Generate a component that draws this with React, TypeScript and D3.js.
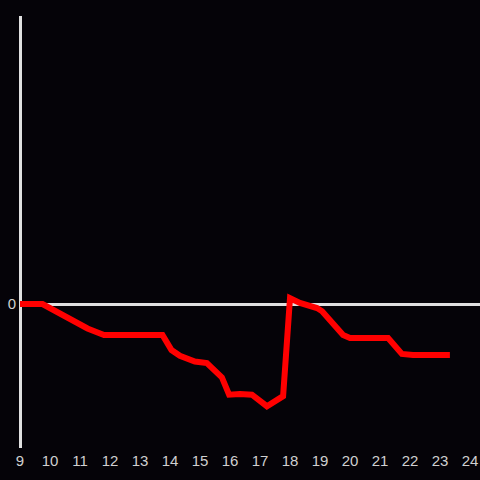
import React from "react";
import * as d3 from "d3";

const hours = [9, 9.75, 11.25, 11.8, 13.75, 14.05, 14.33, 14.83, 15.23, 15.73, 15.97, 16.33, 16.73, 17.23, 17.77, 18.0, 18.33, 18.9, 19.07, 19.77, 20.0, 21.27, 21.73, 22.1, 23.33];
const values = [0, 0, -1.7, -2.15, -2.15, -3.2, -3.6, -4.0, -4.1, -5.1, -6.3, -6.25, -6.3, -7.1, -6.4, 0.4, 0.07, -0.28, -0.5, -2.15, -2.36, -2.36, -3.47, -3.54, -3.54];
const xTicks = [9, 10, 11, 12, 13, 14, 15, 16, 17, 18, 19, 20, 21, 22, 23, 24];
const yTicks = [0];

export default function App() {
  const W = 480, H = 480;
  const x = d3.scaleLinear().domain([9, 24]).range([20, 470]);
  const y = d3.scaleLinear().domain([-10, 20]).range([448, 16]);
  const data = hours.map((h, i) => [h, values[i]] as [number, number]);
  const line = d3.line<[number, number]>().x(d => x(d[0])).y(d => y(d[1]));
  const font = "'Liberation Sans', Arial, sans-serif";
  return (
    <svg width={W} height={H} style={{ position: "absolute", left: 0, top: 0, display: "block" }}>
      <rect x={0} y={0} width={W} height={H} fill="#050308" />
      <line x1={20.5} x2={20.5} y1={16} y2={448} stroke="#e0e0e0" strokeWidth={3} />
      {yTicks.map(t => (
        <g key={t}>
          <line x1={20} x2={480} y1={y(t) + 0.5} y2={y(t) + 0.5} stroke="#e0e0e0" strokeWidth={3} />
          <text x={16} y={y(t)} dy="0.36em" textAnchor="end" fill="#d0d0d0" fontSize={15} fontFamily={font}>{t}</text>
        </g>
      ))}
      {xTicks.map(t => (
        <text key={t} x={x(t)} y={466} textAnchor="middle" fill="#d0d0d0" fontSize={15} fontFamily={font}>{t}</text>
      ))}
      <path d={line(data) || ""} fill="none" stroke="#ff0000" strokeWidth={6} strokeLinejoin="miter" />
    </svg>
  );
}
